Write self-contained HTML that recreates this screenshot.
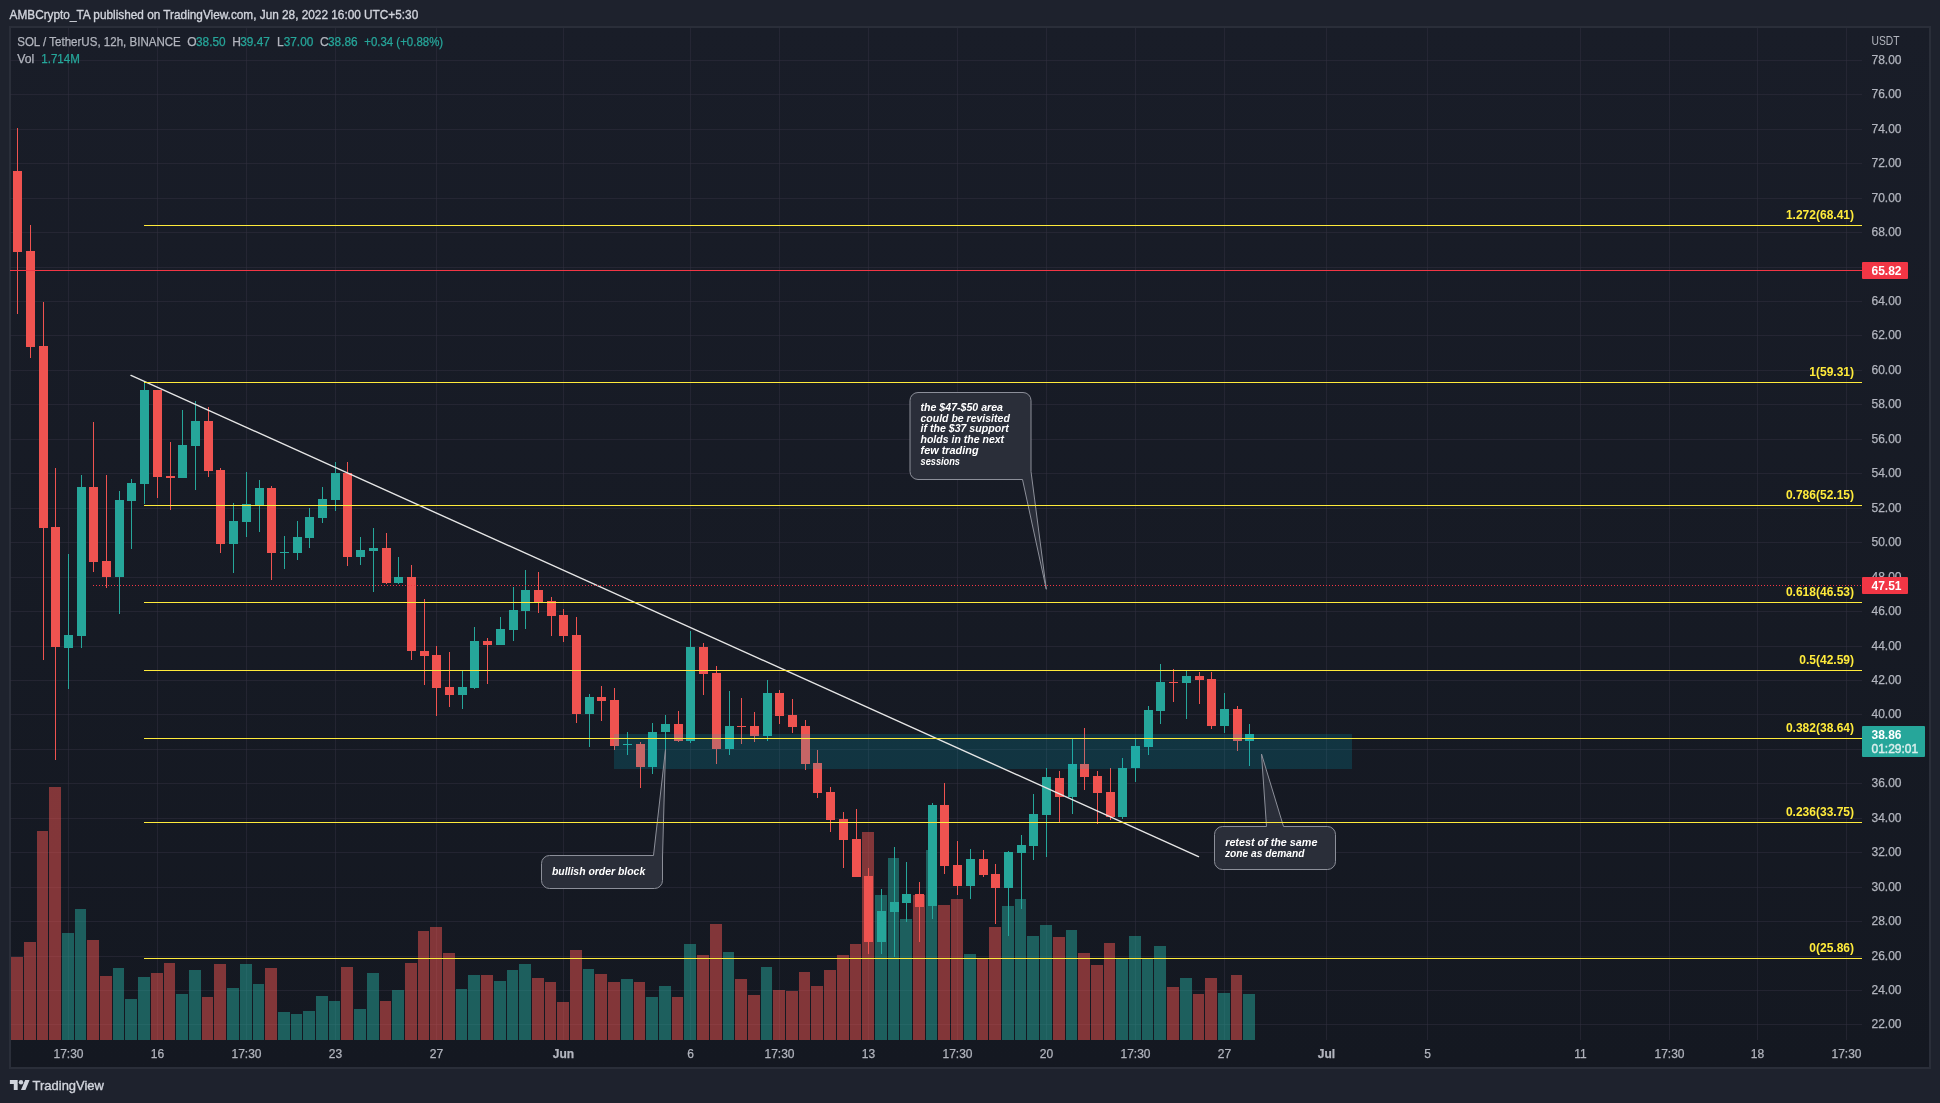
<!DOCTYPE html><html><head><meta charset="utf-8"><style>html,body{margin:0;padding:0;background:#1e222d;overflow:hidden}svg{display:block;will-change:transform}text{font-family:"Liberation Sans",sans-serif}</style></head><body>
<svg width="1940" height="1103" viewBox="0 0 1940 1103">
<defs><linearGradient id="bg" x1="0" y1="0" x2="0" y2="1"><stop offset="0" stop-color="#191d28"/><stop offset="1" stop-color="#141821"/></linearGradient></defs>
<rect x="0" y="0" width="1940" height="1103" fill="#1e222d"/>
<rect x="9" y="26" width="1922" height="1043" fill="#2a2e39" shape-rendering="crispEdges"/>
<rect x="11" y="28" width="1918" height="1039" fill="url(#bg)" shape-rendering="crispEdges"/>
<path d="M10 1024.5H1862 M10 990.5H1862 M10 956.5H1862 M10 921.5H1862 M10 887.5H1862 M10 852.5H1862 M10 818.5H1862 M10 783.5H1862 M10 749.5H1862 M10 714.5H1862 M10 680.5H1862 M10 646.5H1862 M10 611.5H1862 M10 577.5H1862 M10 542.5H1862 M10 508.5H1862 M10 473.5H1862 M10 439.5H1862 M10 404.5H1862 M10 370.5H1862 M10 335.5H1862 M10 301.5H1862 M10 267.5H1862 M10 232.5H1862 M10 198.5H1862 M10 163.5H1862 M10 129.5H1862 M10 94.5H1862 M10 60.5H1862" stroke="rgba(50,48,64,0.5)" stroke-width="1" fill="none" shape-rendering="crispEdges"/>
<path d="M68.5 28V1040 M157.5 28V1040 M246.5 28V1040 M335.5 28V1040 M436.5 28V1040 M563.5 28V1040 M690.5 28V1040 M779.5 28V1040 M868.5 28V1040 M957.5 28V1040 M1046.5 28V1040 M1135.5 28V1040 M1224.5 28V1040 M1326.5 28V1040 M1427.5 28V1040 M1580.5 28V1040 M1669.5 28V1040 M1757.5 28V1040 M1846.5 28V1040" stroke="rgba(50,48,64,0.5)" stroke-width="1" fill="none" shape-rendering="crispEdges"/>
<path d="M11 957h12V1040h-12Z M24 942h12V1040h-12Z M37 831h11V1040h-11Z M49 787h12V1040h-12Z M87 940h12V1040h-12Z M100 976h12V1040h-12Z M151 973h12V1040h-12Z M164 963h11V1040h-11Z M202 997h11V1040h-11Z M214 964h12V1040h-12Z M265 968h12V1040h-12Z M341 967h12V1040h-12Z M380 1001h11V1040h-11Z M405 963h12V1040h-12Z M418 931h11V1040h-11Z M430 927h12V1040h-12Z M443 953h12V1040h-12Z M481 975h12V1040h-12Z M532 978h12V1040h-12Z M545 982h11V1040h-11Z M557 1002h12V1040h-12Z M570 950h12V1040h-12Z M595 974h12V1040h-12Z M608 982h12V1040h-12Z M634 982h11V1040h-11Z M672 997h11V1040h-11Z M697 955h12V1040h-12Z M710 924h12V1040h-12Z M735 979h12V1040h-12Z M748 995h12V1040h-12Z M773 990h12V1040h-12Z M786 991h12V1040h-12Z M799 972h11V1040h-11Z M811 986h12V1040h-12Z M824 970h12V1040h-12Z M837 955h12V1040h-12Z M850 944h11V1040h-11Z M862 832h12V1040h-12Z M913 895h12V1040h-12Z M938 905h12V1040h-12Z M951 899h12V1040h-12Z M977 958h11V1040h-11Z M989 927h12V1040h-12Z M1053 937h12V1040h-12Z M1078 953h12V1040h-12Z M1091 965h12V1040h-12Z M1104 943h11V1040h-11Z M1167 987h12V1040h-12Z M1193 994h11V1040h-11Z M1205 978h12V1040h-12Z M1231 975h11V1040h-11Z" fill="rgba(239,83,80,0.5)" shape-rendering="crispEdges"/>
<path d="M62 933h12V1040h-12Z M75 909h11V1040h-11Z M113 968h11V1040h-11Z M125 999h12V1040h-12Z M138 977h12V1040h-12Z M176 994h12V1040h-12Z M189 970h12V1040h-12Z M227 988h12V1040h-12Z M240 964h12V1040h-12Z M253 984h11V1040h-11Z M278 1012h12V1040h-12Z M291 1014h11V1040h-11Z M303 1011h12V1040h-12Z M316 996h12V1040h-12Z M329 1001h11V1040h-11Z M354 1009h12V1040h-12Z M367 973h12V1040h-12Z M392 990h12V1040h-12Z M456 989h11V1040h-11Z M468 975h12V1040h-12Z M494 981h12V1040h-12Z M507 970h11V1040h-11Z M519 964h12V1040h-12Z M583 969h11V1040h-11Z M621 979h12V1040h-12Z M646 997h12V1040h-12Z M659 986h12V1040h-12Z M684 944h12V1040h-12Z M723 952h11V1040h-11Z M761 967h11V1040h-11Z M875 895h12V1040h-12Z M888 858h11V1040h-11Z M900 919h12V1040h-12Z M926 850h11V1040h-11Z M964 954h12V1040h-12Z M1002 906h12V1040h-12Z M1015 899h11V1040h-11Z M1027 936h12V1040h-12Z M1040 925h12V1040h-12Z M1066 930h11V1040h-11Z M1116 958h12V1040h-12Z M1129 936h12V1040h-12Z M1142 958h11V1040h-11Z M1154 946h12V1040h-12Z M1180 978h12V1040h-12Z M1218 993h12V1040h-12Z M1243 994h12V1040h-12Z" fill="rgba(38,166,154,0.5)" shape-rendering="crispEdges"/>
<path d="M17 128h1V314h-1Z M13 171h9V252h-9Z M30 225h1V358h-1Z M26 251h9V347h-9Z M43 302h1V660h-1Z M39 346h9V528h-9Z M55 468h1V760h-1Z M51 527h9V647h-9Z M93 422h1V572h-1Z M89 487h9V562h-9Z M106 475h1V588h-1Z M102 561h9V577h-9Z M157 390h1V498h-1Z M153 390h9V477h-9Z M170 442h1V510h-1Z M166 476h9V478h-9Z M208 407h1V477h-1Z M204 421h9V471h-9Z M220 468h1V553h-1Z M216 470h9V544h-9Z M271 486h1V580h-1Z M267 488h9V553h-9Z M347 462h1V566h-1Z M343 473h9V557h-9Z M386 533h1V584h-1Z M382 548h9V583h-9Z M411 565h1V660h-1Z M407 577h9V651h-9Z M424 599h1V685h-1Z M420 651h9V656h-9Z M436 646h1V716h-1Z M432 655h9V688h-9Z M449 652h1V707h-1Z M445 687h9V695h-9Z M487 638h1V684h-1Z M483 641h9V645h-9Z M538 572h1V613h-1Z M534 590h9V602h-9Z M551 597h1V636h-1Z M547 601h9V616h-9Z M563 609h1V642h-1Z M559 615h9V636h-9Z M576 617h1V723h-1Z M572 635h9V714h-9Z M601 686h1V721h-1Z M597 697h9V701h-9Z M614 688h1V750h-1Z M610 700h9V746h-9Z M640 742h1V788h-1Z M636 744h9V767h-9Z M678 711h1V742h-1Z M674 724h9V741h-9Z M703 643h1V695h-1Z M699 647h9V674h-9Z M716 666h1V764h-1Z M712 673h9V749h-9Z M741 698h1V744h-1Z M737 726h9V727h-9Z M754 712h1V742h-1Z M750 726h9V736h-9Z M779 690h1V724h-1Z M775 693h9V716h-9Z M792 699h1V733h-1Z M788 715h9V727h-9Z M805 720h1V770h-1Z M801 726h9V764h-9Z M817 750h1V798h-1Z M813 763h9V793h-9Z M830 787h1V832h-1Z M826 792h9V820h-9Z M843 812h1V868h-1Z M839 819h9V840h-9Z M856 809h1V877h-1Z M852 839h9V877h-9Z M868 868h1V954h-1Z M864 876h9V942h-9Z M919 882h1V942h-1Z M915 894h9V907h-9Z M944 783h1V874h-1Z M940 805h9V866h-9Z M957 841h1V895h-1Z M953 865h9V886h-9Z M983 850h1V877h-1Z M979 859h9V875h-9Z M995 864h1V924h-1Z M991 874h9V888h-9Z M1059 771h1V822h-1Z M1055 778h9V797h-9Z M1084 728h1V790h-1Z M1080 764h9V777h-9Z M1097 771h1V824h-1Z M1093 776h9V793h-9Z M1110 768h1V820h-1Z M1106 792h9V817h-9Z M1173 669h1V702h-1Z M1169 682h9V683h-9Z M1199 672h1V704h-1Z M1195 676h9V680h-9Z M1211 672h1V729h-1Z M1207 679h9V726h-9Z M1237 706h1V751h-1Z M1233 709h9V741h-9Z" fill="#ef5350" shape-rendering="crispEdges"/>
<path d="M68 554h1V689h-1Z M64 635h9V648h-9Z M81 475h1V648h-1Z M77 487h9V636h-9Z M119 491h1V614h-1Z M115 500h9V577h-9Z M131 479h1V549h-1Z M127 483h9V501h-9Z M144 382h1V504h-1Z M140 390h9V484h-9Z M182 410h1V478h-1Z M178 445h9V478h-9Z M195 401h1V490h-1Z M191 421h9V446h-9Z M233 503h1V573h-1Z M229 521h9V544h-9Z M246 472h1V537h-1Z M242 504h9V522h-9Z M259 480h1V532h-1Z M255 488h9V505h-9Z M284 536h1V569h-1Z M280 552h9V553h-9Z M297 521h1V560h-1Z M293 537h9V553h-9Z M309 508h1V548h-1Z M305 517h9V538h-9Z M322 487h1V523h-1Z M318 499h9V518h-9Z M335 462h1V511h-1Z M331 473h9V500h-9Z M360 537h1V565h-1Z M356 550h9V557h-9Z M373 528h1V592h-1Z M369 548h9V551h-9Z M398 557h1V584h-1Z M394 577h9V583h-9Z M462 671h1V709h-1Z M458 687h9V695h-9Z M474 627h1V689h-1Z M470 641h9V688h-9Z M500 617h1V645h-1Z M496 629h9V645h-9Z M513 587h1V641h-1Z M509 610h9V630h-9Z M525 570h1V629h-1Z M521 590h9V611h-9Z M589 694h1V747h-1Z M585 697h9V714h-9Z M627 732h1V755h-1Z M623 744h9V745h-9Z M652 723h1V774h-1Z M648 732h9V767h-9Z M665 715h1V750h-1Z M661 724h9V732h-9Z M690 631h1V743h-1Z M686 647h9V741h-9Z M729 691h1V755h-1Z M725 726h9V749h-9Z M767 680h1V741h-1Z M763 693h9V736h-9Z M881 889h1V954h-1Z M877 911h9V942h-9Z M894 847h1V957h-1Z M890 902h9V912h-9Z M906 862h1V922h-1Z M902 894h9V903h-9Z M932 803h1V919h-1Z M928 805h9V906h-9Z M970 849h1V899h-1Z M966 859h9V886h-9Z M1008 851h1V936h-1Z M1004 852h9V888h-9Z M1021 835h1V909h-1Z M1017 845h9V853h-9Z M1033 794h1V860h-1Z M1029 814h9V846h-9Z M1046 768h1V857h-1Z M1042 777h9V815h-9Z M1072 739h1V814h-1Z M1068 764h9V797h-9Z M1122 758h1V819h-1Z M1118 768h9V817h-9Z M1135 739h1V782h-1Z M1131 746h9V768h-9Z M1148 706h1V755h-1Z M1144 710h9V747h-9Z M1160 664h1V724h-1Z M1156 682h9V711h-9Z M1186 671h1V719h-1Z M1182 676h9V683h-9Z M1224 693h1V733h-1Z M1220 709h9V726h-9Z M1249 724h1V766h-1Z M1245 734h9V741h-9Z" fill="#26a69a" shape-rendering="crispEdges"/>
<rect x="614" y="734" width="738" height="35" fill="rgba(0,188,212,0.17)" shape-rendering="crispEdges"/>
<path d="M918 392.5H1023A8 8 0 0 1 1031 400.5V471.5L1046.3 589.3L1022.5 479.5H918A8 8 0 0 1 910 471.5V400.5A8 8 0 0 1 918 392.5Z" fill="#2a2e39" stroke="#8c8f99" stroke-width="1"/>
<path d="M549.5 855.5H653.5L665.5 749.5L662.5 857V880.5A8 8 0 0 1 654.5 888.5H549.5A8 8 0 0 1 541.5 880.5V863.5A8 8 0 0 1 549.5 855.5Z" fill="#2a2e39" stroke="#8c8f99" stroke-width="1"/>
<path d="M1222.5 826.5H1266.5L1261.5 754L1283.5 826.5H1327.5A8 8 0 0 1 1335.5 834.5V861.5A8 8 0 0 1 1327.5 869.5H1222.5A8 8 0 0 1 1214.5 861.5V834.5A8 8 0 0 1 1222.5 826.5Z" fill="#2a2e39" stroke="#8c8f99" stroke-width="1"/>
<text x="920.5" y="410.6" textLength="82.5" fill="#ffffff" font-size="11" font-weight="bold" font-style="italic" lengthAdjust="spacingAndGlyphs">the $47-$50 area</text>
<text x="920.5" y="421.5" textLength="89.3" fill="#ffffff" font-size="11" font-weight="bold" font-style="italic" lengthAdjust="spacingAndGlyphs">could be revisited</text>
<text x="920.5" y="432.4" textLength="88.3" fill="#ffffff" font-size="11" font-weight="bold" font-style="italic" lengthAdjust="spacingAndGlyphs">if the $37 support</text>
<text x="920.5" y="443.3" textLength="83.6" fill="#ffffff" font-size="11" font-weight="bold" font-style="italic" lengthAdjust="spacingAndGlyphs">holds in the next</text>
<text x="920.5" y="454.2" textLength="58.1" fill="#ffffff" font-size="11" font-weight="bold" font-style="italic" lengthAdjust="spacingAndGlyphs">few trading</text>
<text x="920.5" y="465.1" textLength="39.5" fill="#ffffff" font-size="11" font-weight="bold" font-style="italic" lengthAdjust="spacingAndGlyphs">sessions</text>
<text x="551.9" y="874.9" textLength="93.3" fill="#ffffff" font-size="11" font-weight="bold" font-style="italic" lengthAdjust="spacingAndGlyphs">bullish order block</text>
<text x="1225.2" y="845.9" textLength="92.2" fill="#ffffff" font-size="11" font-weight="bold" font-style="italic" lengthAdjust="spacingAndGlyphs">retest of the same</text>
<text x="1224.9" y="856.8" textLength="79.5" fill="#ffffff" font-size="11" font-weight="bold" font-style="italic" lengthAdjust="spacingAndGlyphs">zone as demand</text>
<line x1="131" y1="375.4" x2="1198.5" y2="856.6" stroke="#e6e6e6" stroke-width="1.4" stroke-linecap="round"/>
<rect x="10" y="270" width="1852" height="1" fill="#f23645" shape-rendering="crispEdges"/>
<line x1="93" y1="585.5" x2="1862" y2="585.5" stroke="#f23645" stroke-width="1" stroke-dasharray="1 2" shape-rendering="crispEdges"/>
<path d="M144 225.5H1862 M144 382.5H1862 M144 505.5H1862 M144 602.5H1862 M144 670.5H1862 M144 738.5H1862 M144 822.5H1862 M144 958.5H1862" stroke="#ffeb3b" stroke-width="1" fill="none" shape-rendering="crispEdges"/>
<text x="1854" y="219" fill="#ffeb3b" font-size="12" font-weight="bold" text-anchor="end">1.272(68.41)</text>
<text x="1854" y="376" fill="#ffeb3b" font-size="12" font-weight="bold" text-anchor="end">1(59.31)</text>
<text x="1854" y="499" fill="#ffeb3b" font-size="12" font-weight="bold" text-anchor="end">0.786(52.15)</text>
<text x="1854" y="596" fill="#ffeb3b" font-size="12" font-weight="bold" text-anchor="end">0.618(46.53)</text>
<text x="1854" y="664" fill="#ffeb3b" font-size="12" font-weight="bold" text-anchor="end">0.5(42.59)</text>
<text x="1854" y="732" fill="#ffeb3b" font-size="12" font-weight="bold" text-anchor="end">0.382(38.64)</text>
<text x="1854" y="816" fill="#ffeb3b" font-size="12" font-weight="bold" text-anchor="end">0.236(33.75)</text>
<text x="1854" y="952" fill="#ffeb3b" font-size="12" font-weight="bold" text-anchor="end">0(25.86)</text>
<text x="1871.5" y="1027.9" fill="#b2b5be" stroke="#b2b5be" stroke-width="0.25" font-size="12">22.00</text>
<text x="1871.5" y="993.9" fill="#b2b5be" stroke="#b2b5be" stroke-width="0.25" font-size="12">24.00</text>
<text x="1871.5" y="959.9" fill="#b2b5be" stroke="#b2b5be" stroke-width="0.25" font-size="12">26.00</text>
<text x="1871.5" y="924.9" fill="#b2b5be" stroke="#b2b5be" stroke-width="0.25" font-size="12">28.00</text>
<text x="1871.5" y="890.9" fill="#b2b5be" stroke="#b2b5be" stroke-width="0.25" font-size="12">30.00</text>
<text x="1871.5" y="855.9" fill="#b2b5be" stroke="#b2b5be" stroke-width="0.25" font-size="12">32.00</text>
<text x="1871.5" y="821.9" fill="#b2b5be" stroke="#b2b5be" stroke-width="0.25" font-size="12">34.00</text>
<text x="1871.5" y="786.9" fill="#b2b5be" stroke="#b2b5be" stroke-width="0.25" font-size="12">36.00</text>
<text x="1871.5" y="717.9" fill="#b2b5be" stroke="#b2b5be" stroke-width="0.25" font-size="12">40.00</text>
<text x="1871.5" y="683.9" fill="#b2b5be" stroke="#b2b5be" stroke-width="0.25" font-size="12">42.00</text>
<text x="1871.5" y="649.9" fill="#b2b5be" stroke="#b2b5be" stroke-width="0.25" font-size="12">44.00</text>
<text x="1871.5" y="614.9" fill="#b2b5be" stroke="#b2b5be" stroke-width="0.25" font-size="12">46.00</text>
<text x="1871.5" y="580.9" fill="#b2b5be" stroke="#b2b5be" stroke-width="0.25" font-size="12">48.00</text>
<text x="1871.5" y="545.9" fill="#b2b5be" stroke="#b2b5be" stroke-width="0.25" font-size="12">50.00</text>
<text x="1871.5" y="511.9" fill="#b2b5be" stroke="#b2b5be" stroke-width="0.25" font-size="12">52.00</text>
<text x="1871.5" y="476.9" fill="#b2b5be" stroke="#b2b5be" stroke-width="0.25" font-size="12">54.00</text>
<text x="1871.5" y="442.9" fill="#b2b5be" stroke="#b2b5be" stroke-width="0.25" font-size="12">56.00</text>
<text x="1871.5" y="407.9" fill="#b2b5be" stroke="#b2b5be" stroke-width="0.25" font-size="12">58.00</text>
<text x="1871.5" y="373.9" fill="#b2b5be" stroke="#b2b5be" stroke-width="0.25" font-size="12">60.00</text>
<text x="1871.5" y="338.9" fill="#b2b5be" stroke="#b2b5be" stroke-width="0.25" font-size="12">62.00</text>
<text x="1871.5" y="304.9" fill="#b2b5be" stroke="#b2b5be" stroke-width="0.25" font-size="12">64.00</text>
<text x="1871.5" y="235.9" fill="#b2b5be" stroke="#b2b5be" stroke-width="0.25" font-size="12">68.00</text>
<text x="1871.5" y="201.9" fill="#b2b5be" stroke="#b2b5be" stroke-width="0.25" font-size="12">70.00</text>
<text x="1871.5" y="166.9" fill="#b2b5be" stroke="#b2b5be" stroke-width="0.25" font-size="12">72.00</text>
<text x="1871.5" y="132.9" fill="#b2b5be" stroke="#b2b5be" stroke-width="0.25" font-size="12">74.00</text>
<text x="1871.5" y="97.9" fill="#b2b5be" stroke="#b2b5be" stroke-width="0.25" font-size="12">76.00</text>
<text x="1871.5" y="63.9" fill="#b2b5be" stroke="#b2b5be" stroke-width="0.25" font-size="12">78.00</text>
<text x="1871.5" y="44.6" fill="#b2b5be" font-size="12" textLength="28" lengthAdjust="spacingAndGlyphs">USDT</text>
<rect x="1862" y="262" width="46" height="17" rx="1" fill="#f23645"/>
<text x="1871.5" y="275" fill="#fff" font-size="12" font-weight="bold">65.82</text>
<rect x="1862" y="577" width="46" height="17" rx="1" fill="#f23645"/>
<text x="1871.5" y="590" fill="#fff" font-size="12" font-weight="bold">47.51</text>
<rect x="1862" y="726" width="63" height="31" rx="1" fill="#26a69a"/>
<text x="1871.5" y="739.3" fill="#fff" font-size="12" font-weight="bold">38.86</text>
<text x="1871.5" y="752.8" fill="#dcefed" stroke="#dcefed" stroke-width="0.4" font-size="12">01:29:01</text>
<text x="68.5" y="1057.7" fill="#b2b5be" stroke="#b2b5be" stroke-width="0.25" font-size="12" text-anchor="middle">17:30</text>
<text x="157.5" y="1057.7" fill="#b2b5be" stroke="#b2b5be" stroke-width="0.25" font-size="12" text-anchor="middle">16</text>
<text x="246.5" y="1057.7" fill="#b2b5be" stroke="#b2b5be" stroke-width="0.25" font-size="12" text-anchor="middle">17:30</text>
<text x="335.5" y="1057.7" fill="#b2b5be" stroke="#b2b5be" stroke-width="0.25" font-size="12" text-anchor="middle">23</text>
<text x="436.5" y="1057.7" fill="#b2b5be" stroke="#b2b5be" stroke-width="0.25" font-size="12" text-anchor="middle">27</text>
<text x="563.5" y="1057.7" fill="#b2b5be" stroke="#b2b5be" stroke-width="0.25" font-size="12" text-anchor="middle" font-weight="bold">Jun</text>
<text x="690.5" y="1057.7" fill="#b2b5be" stroke="#b2b5be" stroke-width="0.25" font-size="12" text-anchor="middle">6</text>
<text x="779.5" y="1057.7" fill="#b2b5be" stroke="#b2b5be" stroke-width="0.25" font-size="12" text-anchor="middle">17:30</text>
<text x="868.5" y="1057.7" fill="#b2b5be" stroke="#b2b5be" stroke-width="0.25" font-size="12" text-anchor="middle">13</text>
<text x="957.5" y="1057.7" fill="#b2b5be" stroke="#b2b5be" stroke-width="0.25" font-size="12" text-anchor="middle">17:30</text>
<text x="1046.5" y="1057.7" fill="#b2b5be" stroke="#b2b5be" stroke-width="0.25" font-size="12" text-anchor="middle">20</text>
<text x="1135.5" y="1057.7" fill="#b2b5be" stroke="#b2b5be" stroke-width="0.25" font-size="12" text-anchor="middle">17:30</text>
<text x="1224.5" y="1057.7" fill="#b2b5be" stroke="#b2b5be" stroke-width="0.25" font-size="12" text-anchor="middle">27</text>
<text x="1326.5" y="1057.7" fill="#b2b5be" stroke="#b2b5be" stroke-width="0.25" font-size="12" text-anchor="middle" font-weight="bold">Jul</text>
<text x="1427.5" y="1057.7" fill="#b2b5be" stroke="#b2b5be" stroke-width="0.25" font-size="12" text-anchor="middle">5</text>
<text x="1580.5" y="1057.7" fill="#b2b5be" stroke="#b2b5be" stroke-width="0.25" font-size="12" text-anchor="middle">11</text>
<text x="1669.5" y="1057.7" fill="#b2b5be" stroke="#b2b5be" stroke-width="0.25" font-size="12" text-anchor="middle">17:30</text>
<text x="1757.5" y="1057.7" fill="#b2b5be" stroke="#b2b5be" stroke-width="0.25" font-size="12" text-anchor="middle">18</text>
<text x="1846.5" y="1057.7" fill="#b2b5be" stroke="#b2b5be" stroke-width="0.25" font-size="12" text-anchor="middle">17:30</text>
<text x="17.2" y="46" font-size="12" fill="#b2b5be" stroke="#b2b5be" stroke-width="0.25" textLength="163.6" lengthAdjust="spacingAndGlyphs">SOL / TetherUS, 12h, BINANCE</text>
<text x="187.2" y="46" font-size="12" fill="#b2b5be" stroke="#b2b5be" stroke-width="0.25">O</text>
<text x="196" y="46" font-size="12" fill="#26a69a" stroke="#26a69a" stroke-width="0.25" textLength="29.6" lengthAdjust="spacingAndGlyphs">38.50</text>
<text x="232.2" y="46" font-size="12" fill="#b2b5be" stroke="#b2b5be" stroke-width="0.25">H</text>
<text x="240.2" y="46" font-size="12" fill="#26a69a" stroke="#26a69a" stroke-width="0.25" textLength="29.6" lengthAdjust="spacingAndGlyphs">39.47</text>
<text x="277" y="46" font-size="12" fill="#b2b5be" stroke="#b2b5be" stroke-width="0.25">L</text>
<text x="283.7" y="46" font-size="12" fill="#26a69a" stroke="#26a69a" stroke-width="0.25" textLength="29.6" lengthAdjust="spacingAndGlyphs">37.00</text>
<text x="320" y="46" font-size="12" fill="#b2b5be" stroke="#b2b5be" stroke-width="0.25">C</text>
<text x="328" y="46" font-size="12" fill="#26a69a" stroke="#26a69a" stroke-width="0.25" textLength="29.6" lengthAdjust="spacingAndGlyphs">38.86</text>
<text x="364.2" y="46" font-size="12" fill="#26a69a" stroke="#26a69a" stroke-width="0.25" textLength="79" lengthAdjust="spacingAndGlyphs">+0.34 (+0.88%)</text>
<text x="17.2" y="62.8" font-size="12" fill="#b2b5be" stroke="#b2b5be" stroke-width="0.25" textLength="17" lengthAdjust="spacingAndGlyphs">Vol</text>
<text x="41.3" y="62.8" font-size="12" fill="#26a69a" stroke="#26a69a" stroke-width="0.25" textLength="38.5" lengthAdjust="spacingAndGlyphs">1.714M</text>
<text x="9.6" y="19.1" font-size="12.6" fill="#d1d4dc" stroke="#d1d4dc" stroke-width="0.35" textLength="408.6" lengthAdjust="spacingAndGlyphs">AMBCrypto_TA published on TradingView.com, Jun 28, 2022 16:00 UTC+5:30</text>
<g transform="translate(9.9 1077.8) scale(0.555)" fill="#d1d4dc"><path d="M14 22H7V11H0V4h14v18zM28 22h-8l7.5-18h8L28 22z"/><circle cx="20" cy="8" r="4"/></g>
<text x="32.6" y="1090" font-size="13.5" fill="#d1d4dc" stroke="#d1d4dc" stroke-width="0.4" textLength="71.3" lengthAdjust="spacingAndGlyphs">TradingView</text>
</svg></body></html>
